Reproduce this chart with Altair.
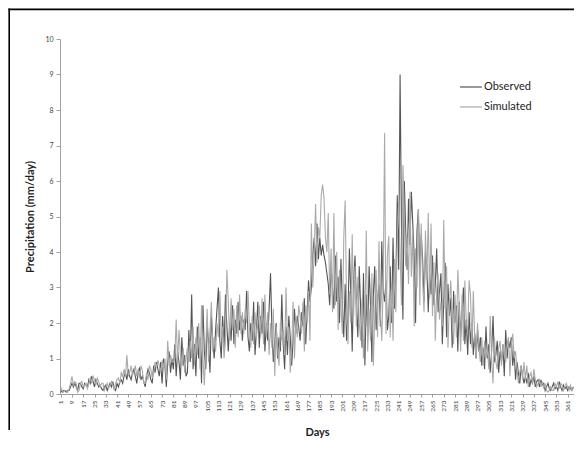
import altair as alt
import pandas as pd

series_names = ["Observed", "Simulated"]
series_colors = ["#555555", "#aaaaaa"]
x_tick_values = list(range(1, 366, 8))
y_tick_values = list(range(0, 11))

observed = [
    0.1, 0.05, 0.1, 0.1, 0.05, 0.1, 0.1, 0.2, 0.3, 0.2,
    0.3, 0.2, 0.1, 0.3, 0.3, 0.2, 0.15, 0.3, 0.25, 0.2,
    0.4, 0.3, 0.5, 0.35, 0.2, 0.4, 0.3, 0.2, 0.25, 0.15,
    0.1, 0.2, 0.25, 0.1, 0.2, 0.3, 0.2, 0.35, 0.15, 0.1,
    0.3, 0.2, 0.35, 0.4, 0.3, 0.5, 0.6, 0.4, 0.7, 0.5,
    0.4, 0.6, 0.7, 0.5, 0.3, 0.6, 0.75, 0.4, 0.5, 0.35,
    0.2, 0.5, 0.7, 0.6, 0.4, 0.3, 0.8, 0.6, 0.9, 0.7,
    0.5, 0.9, 0.3, 1.0, 0.8, 0.2, 0.9, 1.2, 0.6, 1.0,
    0.7, 1.4, 0.5, 1.2, 0.9, 0.4, 1.6, 0.8, 1.1, 0.5,
    0.6, 1.8, 0.9, 2.8, 0.7, 1.4, 0.5, 1.9, 1.0, 1.6,
    0.3, 2.5, 1.2, 0.7, 2.0, 1.4, 0.6, 2.2, 1.5, 1.0,
    1.8, 2.4, 3.0, 1.5, 1.0, 2.2, 1.3, 2.8, 1.9, 1.2,
    2.0, 1.5, 2.5, 1.4, 2.1, 1.7, 2.6, 1.8, 2.2, 1.5,
    2.1, 1.8, 2.9, 1.6, 1.2, 2.0, 1.5, 2.6, 1.1, 1.8,
    2.6, 1.3, 2.2, 1.7, 2.6, 1.2, 2.0, 1.5, 2.4, 3.4,
    1.8, 0.9, 1.5, 2.0, 1.0, 1.6, 1.2, 2.8, 1.4, 0.7,
    1.9, 1.1, 2.2, 1.6, 0.8, 1.5, 2.4, 1.7, 2.2, 1.9,
    1.5, 2.3, 1.9, 2.7, 1.4, 2.3, 3.2, 2.6, 3.0, 3.9,
    4.4, 3.6, 4.8, 3.8, 4.4, 3.9, 4.2, 3.9, 3.7, 3.4,
    3.1, 2.5, 3.6, 3.0, 2.4, 3.9, 2.6, 3.3, 2.0, 3.8,
    2.5, 1.6, 3.1, 1.5, 2.2, 4.1, 2.8, 1.2, 3.2, 3.9,
    2.5, 1.6, 3.6, 2.4, 1.3, 3.4, 0.8, 2.8, 1.7, 3.6,
    2.5, 0.9, 2.8, 3.6, 1.8, 2.6, 3.1, 1.9, 4.3, 2.9,
    2.6, 3.2, 1.8, 2.2, 3.6, 2.0, 4.4, 2.4, 3.2, 5.6,
    3.5, 9.0, 4.7, 2.1, 6.0, 4.6, 3.5, 5.5, 4.2, 5.7,
    4.8, 3.9, 2.0, 4.6, 5.2, 3.4, 4.5, 3.8, 2.6, 4.0,
    3.6, 2.3, 3.4, 2.8, 3.9, 2.5, 3.1, 4.1, 2.3, 2.9,
    3.4, 1.4, 2.6, 3.7, 1.6, 3.1, 2.2, 2.7, 1.3, 2.9,
    2.0, 2.5, 1.2, 2.6, 1.6, 2.3, 3.0, 1.4, 2.1, 1.1,
    2.3, 1.4, 2.0, 1.1, 1.7, 1.0, 1.8, 1.2, 1.6, 0.8,
    1.3, 0.7, 1.9, 1.0, 1.4, 0.6, 1.2, 2.2, 0.9, 1.1,
    1.5, 0.6, 1.2, 0.9, 1.4, 0.5, 1.8, 1.0, 1.5, 1.3,
    1.6, 0.8, 1.2, 0.4, 0.9, 0.6, 0.3, 0.8, 0.5, 0.3,
    0.5, 0.3, 0.6, 0.2, 0.4, 0.3, 0.5, 0.2, 0.35, 0.4,
    0.2, 0.4, 0.25, 0.3, 0.1, 0.2, 0.3, 0.15, 0.1, 0.2,
    0.3, 0.15, 0.2, 0.1, 0.35, 0.2, 0.1, 0.25, 0.15, 0.2,
    0.1, 0.2, 0.15, 0.1, 0.2,
]

simulated = [
    0.2, 0.1, 0.05, 0.1, 0.1, 0.05, 0.15, 0.3, 0.5, 0.25,
    0.35, 0.3, 0.05, 0.1, 0.3, 0.35, 0.2, 0.25, 0.3, 0.15,
    0.3, 0.45, 0.3, 0.5, 0.4, 0.25, 0.45, 0.35, 0.2, 0.3,
    0.3, 0.1, 0.2, 0.3, 0.15, 0.25, 0.35, 0.25, 0.1, 0.3,
    0.4, 0.45, 0.3, 0.6, 0.5, 0.7, 0.5, 1.1, 0.5, 0.6,
    0.8, 0.55, 0.6, 0.8, 0.5, 0.7, 0.45, 0.8, 0.65, 0.3,
    0.3, 0.6, 0.4, 0.8, 0.7, 0.45, 0.6, 0.9, 0.75, 0.95,
    0.8, 0.6, 0.95, 0.7, 1.0, 0.4, 1.5, 0.8, 1.1, 0.9,
    0.9, 1.0, 2.1, 0.9, 1.8, 1.1, 0.8, 1.3, 0.6, 1.0,
    1.3, 0.9, 1.5, 1.0, 1.9, 0.8, 1.6, 1.1, 2.0, 0.7,
    2.5, 1.0, 0.25, 1.3, 2.4, 0.9, 1.8, 2.6, 1.2, 1.6,
    1.2, 2.0, 1.6, 2.9, 1.6, 1.9, 1.0, 1.5, 3.5, 2.6,
    1.5, 2.7, 1.8, 2.4, 1.3, 2.5, 1.6, 2.8, 1.7, 2.3,
    1.7, 2.4, 2.0, 2.9, 1.9, 1.3, 2.2, 1.4, 2.3, 1.6,
    2.0, 2.5, 1.6, 2.7, 1.4, 2.8, 1.6, 2.3, 1.1, 2.0,
    1.3, 2.4, 0.5, 1.9, 1.3, 0.8, 2.0, 1.5, 1.8, 1.1,
    3.0, 1.5, 1.9, 0.6, 1.3, 2.6, 1.0, 2.1, 1.6, 2.5,
    2.2, 1.7, 2.6, 1.2, 2.5, 2.0, 2.9, 1.5, 4.8, 3.0,
    4.0, 5.35, 3.7, 4.7, 4.4, 5.6, 5.9, 5.5, 4.4, 4.0,
    5.1, 2.8, 4.1, 2.3, 5.1, 2.5, 4.0, 1.8, 3.5, 2.5,
    1.7, 4.4, 5.45, 2.5, 1.4, 2.9, 2.0, 4.5, 2.2, 3.6,
    1.9, 3.3, 2.0, 1.5, 2.7, 1.0, 2.0, 4.6, 1.2, 2.4,
    1.5, 3.4, 0.8, 2.2, 3.5, 1.6, 4.3, 2.3, 1.5, 3.0,
    7.35, 1.7, 3.9, 4.45, 1.6, 3.1, 1.5, 3.8, 2.3, 4.5,
    5.4, 4.0, 2.5, 6.45, 5.1, 3.6, 4.4, 3.1, 5.7, 3.3,
    4.6, 1.9, 4.1, 3.0, 5.2, 2.5, 4.8, 3.2, 2.3, 4.6,
    3.2, 5.1, 2.7, 4.8, 2.2, 3.7, 1.5, 2.9, 3.4, 2.1,
    2.6, 1.9, 4.9, 2.4, 3.6, 1.3, 2.5, 3.2, 2.0, 1.4,
    2.8, 1.6, 3.5, 2.5, 1.2, 2.8, 1.5, 3.2, 2.0, 1.7,
    3.2, 2.8, 1.3, 2.9, 1.5, 1.0, 2.0, 1.3, 0.9, 1.6,
    0.8, 1.5, 1.0, 1.3, 0.7, 2.2, 1.0, 0.3, 1.6, 0.9,
    0.7, 1.3, 1.5, 0.8, 1.4, 1.1, 0.9, 1.4, 1.6, 0.5,
    1.4, 1.7, 1.0, 1.2, 0.7, 0.3, 0.6, 0.8, 0.4, 0.9,
    0.4, 0.8, 0.2, 0.5, 0.6, 0.3, 0.7, 0.4, 0.2, 0.3,
    0.4, 0.2, 0.35, 0.15, 0.3, 0.1, 0.05, 0.1, 0.2, 0.1,
    0.1, 0.3, 0.2, 0.35, 0.15, 0.3, 0.25, 0.1, 0.2, 0.3,
    0.2, 0.1, 0.25, 0.1, 0.15,
]

rows = []
for name, vals in zip(series_names, [observed, simulated]):
    for i, v in enumerate(vals):
        rows.append({"Day": i + 1, "Precip": v, "Series": name})
df = pd.DataFrame(rows)

FONT = "Lato"

frame_top = alt.Chart(alt.Data(values=[{"part": "top"}])).mark_rect(
    fill="#000000", strokeWidth=0
).encode(
    x=alt.value(-51.6), x2=alt.value(514), y=alt.value(-30.4), y2=alt.value(-28.8)
)
frame_left = alt.Chart(alt.Data(values=[{"part": "left"}])).mark_rect(
    fill="#000000", strokeWidth=0
).encode(
    x=alt.value(-51.6), x2=alt.value(-50.0), y=alt.value(-30.4), y2=alt.value(391)
)

lines = alt.Chart(df).mark_line(strokeWidth=1.1).encode(
    x=alt.X(
        "Day:Q",
        scale=alt.Scale(domain=[0.5, 365.5], nice=False, zero=False),
        axis=alt.Axis(
            values=x_tick_values, labelAngle=270, title="Days",
            labelFontSize=6.5, labelColor="#444444", labelPadding=3,
            tickSize=3, tickColor="#a0a0a0", domainColor="#a0a0a0",
            grid=False, titleFontSize=11, titleFont=FONT, titleFontWeight="bold",
            titleColor="#222222", titlePadding=15, labelFont=FONT,
        ),
    ),
    y=alt.Y(
        "Precip:Q",
        scale=alt.Scale(domain=[0, 10], nice=False),
        axis=alt.Axis(
            values=y_tick_values, title="Precipitation (mm/day)",
            labelFontSize=7, labelColor="#444444", labelPadding=3,
            tickSize=4, tickColor="#a0a0a0", domainColor="#a0a0a0",
            grid=False, titleFontSize=11, titleFont=FONT, titleFontWeight="bold",
            titleColor="#222222", titlePadding=9, labelFont=FONT,
        ),
    ),
    color=alt.Color(
        "Series:N",
        scale=alt.Scale(domain=series_names, range=series_colors),
        legend=alt.Legend(
            title=None, orient="none", legendX=399, legendY=36,
            symbolType="stroke", symbolSize=480, symbolStrokeWidth=1.2,
            labelFontSize=11, labelFont=FONT, labelColor="#222222",
            labelOffset=1, rowPadding=3,
        ),
    ),
    detail="Series:N",
)

chart = alt.layer(frame_top, frame_left, lines).properties(
    width=514, height=355,
    autosize=alt.AutoSizeParams(type="none"),
    padding={"left": 52, "top": 31, "right": 0, "bottom": 44},
).configure_view(stroke="transparent")

chart.save("out.html", embed_options={"renderer": "svg", "actions": False})
